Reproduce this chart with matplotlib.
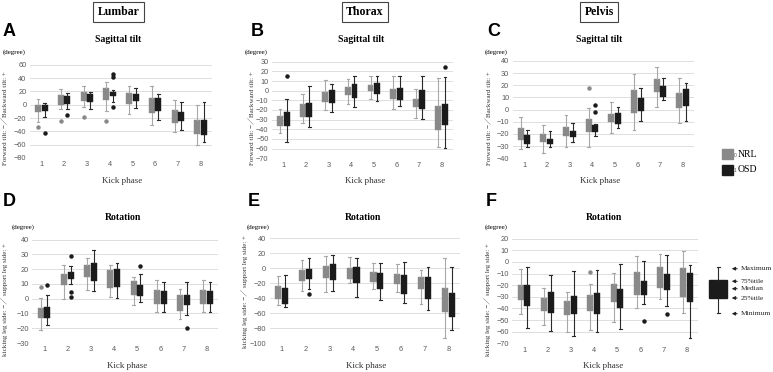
import matplotlib
matplotlib.use("Agg")
import matplotlib.pyplot as plt
from matplotlib.patches import Rectangle

W, H = 773, 372

phases = [1, 2, 3, 4, 5, 6, 7, 8]

# (min, q1, median, q3, max) per kick phase
A_NRL = [(-26, -11, -5, 0, 9), (-6, 0, 8, 14.5, 23), (-3, 5, 12, 19.5, 28.5), (-10, 7, 16, 25, 34.5),
         (-13.5, 0.5, 9, 17, 28.5), (-31, -13, -2, 10, 28.5), (-41.5, -27.5, -18, -8, 6.5), (-61, -44, -34, -23.5, -1)]
A_OSD = [(-19, -9, -5, -1, 2), (-6, 1.5, 7, 12.5, 17), (-6, 3.5, 10, 16.5, 19), (4, 12.5, 16, 19.5, 22),
         (-5, 6, 11, 15.5, 25), (-23.5, -10, 0, 10, 16), (-37.5, -24, -17, -11, 4), (-56.5, -45, -34, -22.5, 4)]
A_NRL_OUT = [(1, -33), (2, -24), (3, -18.5), (4, -25)]
A_OSD_OUT = [(1, -43), (2, -16), (4, 45.5), (4, 41.5), (4, -4)]

B_NRL = [(-43.5, -37, -31, -26.5, -19), (-33.8, -27.6, -20, -13.8, -3.8), (-19.6, -11.7, -6, -1.7, 11),
         (-14, -4.8, 0, 3.4, 12), (-9, -0.7, 3, 5.9, 15.5), (-19.3, -8.3, -3, 1.7, 15),
         (-28.3, -17.2, -12, -8.3, 1.7), (-58.3, -41, -28, -15.9, 13.4)]
B_OSD = [(-53.5, -36.5, -30, -22.4, -8.6), (-38, -27, -20, -12.4, 5), (-22.4, -12.8, -6, 0.7, 6.5),
         (-17, -7.2, 0, 6.5, 15), (-11, -3.1, 2, 7.6, 15), (-15.9, -9.3, -3, 2.4, 15.5),
         (-29.7, -18.6, -9, 0.3, 15), (-59, -35.2, -24, -13.8, 13.8)]
B_NRL_OUT = []
B_OSD_OUT = [(1, 15.5), (8, 24.8)]

C_NRL = [(-32.5, -25.3, -20, -15.4, -6.3), (-35.5, -26.8, -23, -20, -12.6), (-30.3, -22, -18, -14, -4.6),
         (-30.3, -18, -12, -7.4, 1), (-19.4, -10.4, -7, -3.5, 6.3), (-16.7, -3, 6, 15.8, 29.5),
         (2, 14.8, 20, 25, 35), (-11, 1, 7, 13.7, 26)]
C_OSD = [(-30.6, -28, -24, -21, -16.5), (-31, -28, -26, -23.8, -17.2), (-26.5, -22.4, -20, -17.2, -11),
         (-21.3, -18.3, -15, -12.8, -11.7), (-14.8, -11.7, -7, -3, 2.2), (-9.6, -1.4, 4, 9.6, 17.8),
         (7.7, 10.4, 15, 19.7, 26), (-9.3, 2.7, 10, 17.2, 21.9)]
C_NRL_OUT = [(4, 17.8)]
C_OSD_OUT = [(4, 3.5), (4, -2)]

D_NRL = [(-21.4, -13, -10, -6.6, 0.5), (0, 9, 13, 17, 22.7), (5.9, 15, 19, 22.7, 27.7), (1.4, 7.5, 13, 19.5, 22.7),
         (-4.5, 2.5, 7, 11.8, 14.8), (-9.3, -3.4, 1, 5.7, 12.7), (-13.4, -8.2, -3, 2.5, 6.8), (-9.3, -3.4, 1, 5.7, 12.7)]
D_OSD = [(-18, -13, -9, -5.5, 2.5), (9.8, 13.6, 16, 18, 22), (5.5, 12.3, 18, 24, 33), (0.2, 8, 14, 20, 24),
         (-2.5, 2, 6, 9.3, 16.8), (-8.9, -3.4, 1, 5, 11.6), (-11, -4.1, -1, 2.5, 11), (-8.9, -3.4, 1, 5, 11.6)]
D_NRL_OUT = [(1, 8)]
D_OSD_OUT = [(1, 9), (2, 29), (2, 4.5), (2, 1.4), (5, 22), (7, -19.8)]

E_NRL = [(-49.3, -41.8, -33, -23.6, -10.2), (-29.8, -16.9, -9, -1.8, 11), (-32, -13.3, -5, 3.1, 16),
         (-19.6, -15, -7, 0.4, 14.7), (-27.6, -17.8, -11, -4.4, 6.7), (-32.4, -21, -14, -7.1, 5.3),
         (-47.6, -27.6, -19, -11.6, -2.2), (-93.3, -58.2, -42, -26.2, 13.8)]
E_OSD = [(-52, -47.6, -37, -26.7, -9.3), (-28.4, -14.2, -7, -0.9, 13.8), (-30.7, -16.4, -5, 5.8, 17.3),
         (-38.7, -20, -9, 1.8, 13.8), (-42.7, -27.6, -17, -7, 7), (-46.7, -34.2, -21, -9.3, 8.4),
         (-56, -41.3, -26, -11.6, 1.8), (-82.7, -65.3, -49, -32.9, 1.8)]
E_NRL_OUT = []
E_OSD_OUT = [(2, -34.7)]

F_NRL = [(-45, -33, -27, -20, -5.7), (-54, -42, -36, -31, -22), (-60, -46, -40, -34, -25.7),
         (-58.8, -41.9, -35, -28.7, -19.3), (-51.6, -34.4, -27, -18.7, -9.8), (-39.9, -28.1, -18, -8.9, 4.8),
         (-32.1, -22.1, -13, -4.1, 6.8), (-44.2, -30.1, -18, -5.2, 9.1)]
F_OSD = [(-57, -38, -29, -20, -4.3), (-59, -44, -35, -25.7, -11), (-63.4, -44.6, -37, -29.4, -8),
         (-60.2, -45, -36, -27, -7.2), (-58, -39.3, -31, -23.6, -2), (-36.4, -28.7, -23, -16.7, 0.5),
         (-37.9, -23.8, -17, -10.7, 5.7), (-65.7, -34.4, -22, -9.5, -2.9)]
F_NRL_OUT = [(4, -8.4)]
F_OSD_OUT = [(6, -50.5), (7, -44.8)]

Y_TICKS_A = [60, 40, 20, 0, -20, -40, -60, -80]
Y_TICKS_B = [30, 20, 10, 0, -10, -20, -30, -40, -50, -60, -70]
Y_TICKS_C = [40, 30, 20, 10, 0, -10, -20, -30, -40]
Y_TICKS_D = [40, 30, 20, 10, 0, -10, -20, -30]
Y_TICKS_E = [40, 20, 0, -20, -40, -60, -80, -100]
Y_TICKS_F = [20, 10, 0, -10, -20, -30, -40, -50, -60, -70]

SERIES = ["NRL", "OSD"]
SEGMENTS = ["Lumbar", "Thorax", "Pelvis"]
TITLE_TOP = "Sagittal tilt"
TITLE_BOT = "Rotation"
YLAB_TOP = "Forward tilt: \u2212\uff0fBackward tilt: +"
YLAB_BOT = "kicking leg side: \u2212\uff0f support leg side: +"

C_NRL_BOX = "#898989"
C_NRL_WH = "#a8a8a8"
C_OSD_BOX = "#1b1b1b"
C_OSD_WH = "#2a2a2a"
GRID = "#dedede"
TICKC = "#595959"

SERIF = ["Liberation Serif", "Noto Sans CJK JP"]
SANS = ["Liberation Sans", "DejaVu Sans"]

fig = plt.figure(figsize=(W / 100, H / 100), dpi=100)
fig.patch.set_facecolor("white")


def fx(x):
    return x / W


def fy(y):
    return 1 - y / H


def stats(rows):
    out = []
    for r in rows:
        out.append(dict(whislo=r[0], q1=r[1], med=r[2], q3=r[3], whishi=r[4], fliers=[]))
    return out


def panel(box, nrl, osd, nrl_out, osd_out, yticks):
    x0, y0, x1, y1 = box
    ax = fig.add_axes([fx(x0), fy(y1), fx(x1 - x0), (y1 - y0) / H])
    off = 0.145
    w = 0.26
    for data, outl, d, bc, wc in [(nrl, nrl_out, -off, C_NRL_BOX, C_NRL_WH),
                                   (osd, osd_out, off, C_OSD_BOX, C_OSD_WH)]:
        pos = [p + d for p in phases]
        ax.bxp(stats(data), positions=pos, widths=w, patch_artist=True, showfliers=False,
               capwidths=0.12, manage_ticks=False,
               boxprops=dict(facecolor=bc, edgecolor=bc, lw=0.3),
               medianprops=dict(color=bc, lw=0.3),
               whiskerprops=dict(color=wc, lw=0.8),
               capprops=dict(color=wc, lw=0.8))
        if outl:
            ax.plot([o[0] + d for o in outl], [o[1] for o in outl], "o", ms=2.2,
                    color=bc, mec=bc, zorder=4)
    ax.set_xlim(0.5, 8.5)
    ax.set_ylim(min(yticks), max(yticks))
    for s in ax.spines.values():
        s.set_visible(False)
    ax.set_yticks(yticks)
    ax.set_xticks(phases)
    ax.set_xticklabels([str(p) for p in phases])
    ax.grid(axis="y", color=GRID, lw=0.7)
    ax.set_axisbelow(True)
    ax.tick_params(length=0, labelsize=5.3, colors=TICKC, pad=2.5)
    for lab in ax.get_xticklabels() + ax.get_yticklabels():
        lab.set_family(SANS)
    return ax


panels = [
    ((30, 64.7, 212, 158), A_NRL, A_OSD, A_NRL_OUT, A_OSD_OUT, Y_TICKS_A),
    ((272, 61.7, 453, 158.3), B_NRL, B_OSD, B_NRL_OUT, B_OSD_OUT, Y_TICKS_B),
    ((512.7, 61, 694, 158.3), C_NRL, C_OSD, C_NRL_OUT, C_OSD_OUT, Y_TICKS_C),
    ((32.4, 239.7, 218.3, 343), D_NRL, D_OSD, D_NRL_OUT, D_OSD_OUT, Y_TICKS_D),
    ((269.8, 238.3, 460.2, 343), E_NRL, E_OSD, E_NRL_OUT, E_OSD_OUT, Y_TICKS_E),
    ((512.4, 238.7, 698.3, 343.3), F_NRL, F_OSD, F_NRL_OUT, F_OSD_OUT, Y_TICKS_F),
]
for p in panels:
    panel(*p)

# Titles, labels
letters = [("A", 3, 31), ("B", 251, 31), ("C", 487, 31), ("D", 3, 201), ("E", 248, 201), ("F", 486, 201)]
for t, x, y in letters:
    fig.text(fx(x), fy(y), t, fontsize=13, fontweight="bold", family=SANS, va="center", ha="left")

for name, xc in zip(SEGMENTS, [118.5, 365, 599]):
    fig.text(fx(xc), fy(12), name, fontsize=8.5, fontweight="bold", family=SERIF, ha="center", va="center",
             bbox=dict(boxstyle="square,pad=0.35", fc="white", ec="#444444", lw=0.8))

for xc in [118, 361, 599]:
    fig.text(fx(xc), fy(40), TITLE_TOP, fontsize=7, fontweight="bold", family=SERIF, ha="center", va="center")
for xc in [123, 363, 603.5]:
    fig.text(fx(xc), fy(218), TITLE_BOT, fontsize=7, fontweight="bold", family=SERIF, ha="center", va="center")

for xl, y in [(3, 52), (245, 52), (485, 52), (12, 227), (247, 227), (485, 227)]:
    fig.text(fx(xl), fy(y), "(degree)", fontsize=5, family=SERIF, ha="left", va="center")

for xc in [5, 252, 489]:
    fig.text(fx(xc), fy(118), YLAB_TOP, fontsize=5, family=SERIF, rotation=90, ha="center", va="center",
             color="#333333")
for xc, yc in [(5, 300), (245, 292), (488, 300)]:
    fig.text(fx(xc), fy(yc), YLAB_BOT, fontsize=5, family=SERIF, rotation=90, ha="center", va="center",
             color="#333333")

for xc in [122.5, 365, 600]:
    fig.text(fx(xc), fy(181), "Kick phase", fontsize=6.5, family=SERIF, ha="center", va="center", color="#333333")
for xc in [127, 366, 603]:
    fig.text(fx(xc), fy(366), "Kick phase", fontsize=6.5, family=SERIF, ha="center", va="center", color="#333333")

# NRL / OSD legend
for i, (lab, col, y) in enumerate([(SERIES[0], C_NRL_BOX, 154), (SERIES[1], C_OSD_BOX, 169.5)]):
    fig.patches.append(Rectangle((fx(722), fy(y + 5)), fx(10.5), 10 / H, transform=fig.transFigure,
                                 facecolor=col, edgecolor=col))
    fig.text(fx(733.5), fy(y + 1), str(i), fontsize=3.5, family=SANS, ha="left", va="center", color="#555555")
    fig.text(fx(737.5), fy(y), lab, fontsize=7, family=SERIF, ha="left", va="center")

# Box explanation legend (drawn in pixel-like coordinates)
lx = fig.add_axes([fx(700), fy(320), fx(73), 60 / H])
lx.set_xlim(700, 773)
lx.set_ylim(320, 260)
lx.axis("off")
lx.add_patch(Rectangle((709, 279.7), 18, 18.3, facecolor=C_OSD_BOX, edgecolor=C_OSD_BOX))
lx.plot([718, 718], [266.7, 279.7], color=C_OSD_WH, lw=0.8)
lx.plot([718, 718], [298, 313.3], color=C_OSD_WH, lw=0.8)
lx.plot([716.5, 719.5], [266.7, 266.7], color=C_OSD_WH, lw=0.8)
lx.plot([716.5, 719.5], [313.3, 313.3], color=C_OSD_WH, lw=0.8)
for lab, y in [("Maximum", 268.7), ("75%tile", 281.3), ("Median", 288.7), ("25%tile", 298), ("Minimum", 313.7)]:
    lx.annotate("", xy=(729, y), xytext=(740, y),
                arrowprops=dict(arrowstyle="-|>", color="#222222", lw=0.7, mutation_scale=5))
    lx.text(741, y, lab, fontsize=5.4, family=SERIF, ha="left", va="center", color="#222222")

fig.savefig("out.png", dpi=100, facecolor="white")
